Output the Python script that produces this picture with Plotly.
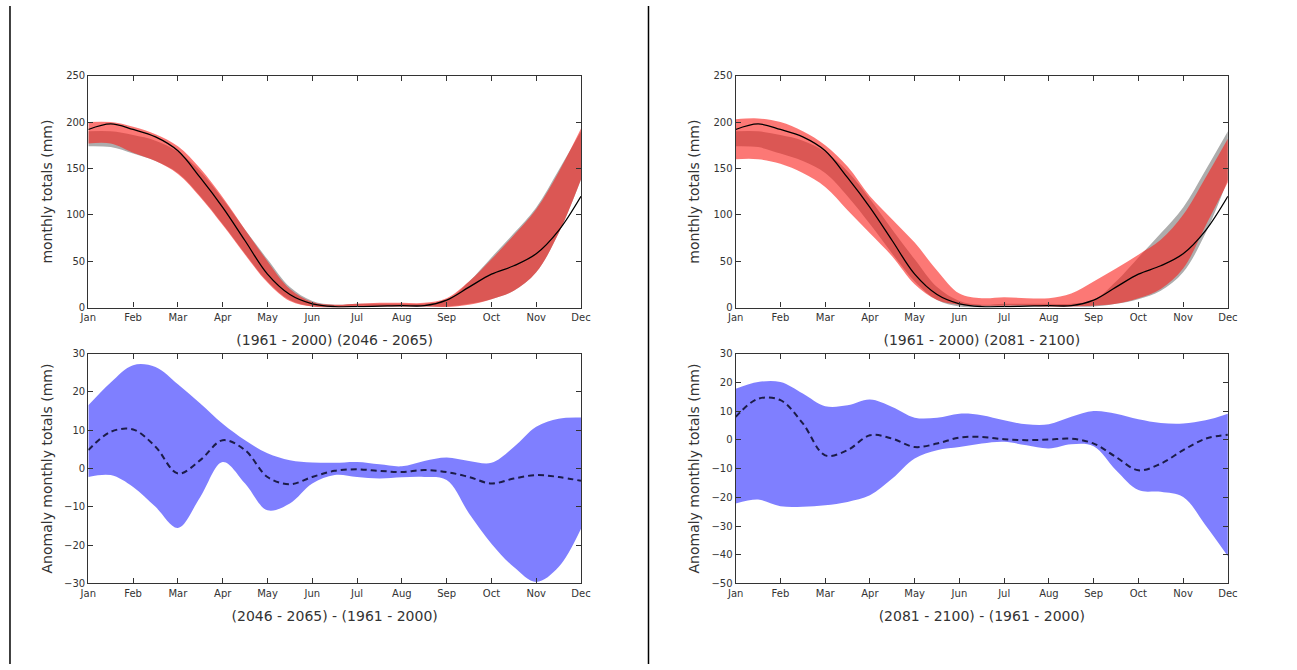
import plotly.graph_objects as go

month_labels = ["Jan", "Feb", "Mar", "Apr", "May", "Jun", "Jul", "Aug", "Sep", "Oct", "Nov", "Dec"]
sample_x = [i / 2 for i in range(23)]  # Jan, mid-Jan, Feb, ... Dec (month index)

# observed climatology (black line, same in both top panels)
obs_line = [192, 198, 192, 184, 169, 140, 108, 72, 36, 14, 4, 1, 1, 1.5, 2, 2, 8, 22, 36, 45, 58, 83, 120]

# historical model range 1961-2000 (grey band)
hist_upper = [190, 190, 186, 180, 168, 147, 117, 84, 52, 22, 7, 3, 4, 4, 4, 4, 8, 28, 54, 80, 108, 148, 190]
hist_lower = [174, 173, 166, 158, 145, 120, 90, 58, 28, 8, 1, 0, 0.5, 1, 1, 1, 1, 4, 9, 18, 38, 80, 138]

# future range 2046-2065 (red band, left)
mid_upper = [200, 200, 195, 187, 174, 150, 119, 84, 50, 20, 6, 3, 4, 5, 5, 5, 10, 28, 52, 78, 106, 146, 193]
mid_lower = [177, 177, 167, 158, 144, 119, 89, 57, 27, 7, 1, 0, 0.5, 1, 1, 1, 0.5, 3, 9, 18, 38, 80, 138]

# future range 2081-2100 (red band, right)
end_upper = [203, 204, 200, 190, 175, 152, 120, 95, 70, 40, 15, 10, 11, 10, 10, 15, 28, 42, 57, 73, 100, 140, 182]
end_lower = [160, 160, 155, 145, 130, 105, 80, 55, 25, 8, 3, 2, 2, 2, 1, 1, 2, 4, 10, 20, 42, 88, 135]

# anomaly (2046-2065) - (1961-2000)
anom_mid_upper = [16.5, 22.5, 27, 26.5, 22, 17, 11.7, 7.4, 4, 2.2, 1.6, 1.5, 1.7, 1.1, 0.6, 2, 2.9, 2, 1.5, 5.6, 10.9, 13, 13.3]
anom_mid_lower = [-2.2, -1.7, -4.8, -10, -15.5, -7.4, 1.7, -3.9, -10.9, -9.1, -3.9, -1.7, -2.2, -2.6, -2.3, -2.2, -3, -11.7, -19.6, -25.7, -29.6, -25.7, -15.7]
anom_mid_mean = [4.8, 9.6, 10.2, 5.7, -1.3, 2.2, 7.4, 4.8, -2.2, -4.1, -2.2, -0.6, -0.2, -0.6, -0.9, -0.4, -0.9, -2.2, -3.9, -2.6, -1.7, -2.2, -3.2]

# anomaly (2081-2100) - (1961-2000)
anom_end_upper = [17.8, 20.1, 20.1, 16.1, 11.7, 12, 14, 11.4, 7.7, 7.7, 9.1, 8.6, 6.8, 5.4, 5.4, 8, 10, 9.1, 7.2, 5.9, 5.7, 6.8, 9.1]
anom_end_lower = [-22.2, -20.8, -23.1, -23.3, -22.8, -21.6, -19.3, -13.5, -6.5, -3.6, -2.5, -1.3, -0.7, -1.9, -3, -1.5, -2.2, -10.6, -17.5, -18.1, -19.9, -29.7, -40.5]
anom_end_mean = [8, 14.3, 13.8, 5.7, -5.4, -3.6, 1.6, 0.4, -2.5, -1.3, 0.8, 1, 0.2, -0.1, 0.1, 0.4, -1.3, -6, -10.6, -8.3, -3.6, 0.4, 1.8]

top_titles = ["(1961 - 2000) (2046 - 2065)", "(1961 - 2000) (2081 - 2100)"]
bottom_titles = ["(2046 - 2065) - (1961 - 2000)", "(2081 - 2100) - (1961 - 2000)"]

# ---- styles ----
FONT = "DejaVu Sans"
GREY = "#adadad"
RED = "rgba(250,30,25,0.6)"
BLUE = "rgba(0,0,255,0.5)"
DASH = "#1c1c48"
SM = 1.0

fig = go.Figure()


def band(xa, ya, lower, upper, color):
    fig.add_trace(go.Scatter(x=sample_x, y=lower, xaxis=xa, yaxis=ya, mode="lines",
                             line=dict(width=0, shape="spline", smoothing=SM, color=color),
                             showlegend=False, hoverinfo="skip"))
    fig.add_trace(go.Scatter(x=sample_x, y=upper, xaxis=xa, yaxis=ya, mode="lines",
                             line=dict(width=0, shape="spline", smoothing=SM, color=color),
                             fill="tonexty", fillcolor=color,
                             showlegend=False, hoverinfo="skip"))


def line(xa, ya, y, color, width, dash="solid"):
    fig.add_trace(go.Scatter(x=sample_x, y=y, xaxis=xa, yaxis=ya, mode="lines",
                             line=dict(color=color, width=width, dash=dash,
                                       shape="spline", smoothing=SM),
                             showlegend=False))


# top-left
band("x", "y", hist_lower, hist_upper, GREY)
band("x", "y", mid_lower, mid_upper, RED)
line("x", "y", obs_line, "black", 1.3)
# top-right
band("x2", "y2", hist_lower, hist_upper, GREY)
band("x2", "y2", end_lower, end_upper, RED)
line("x2", "y2", obs_line, "black", 1.3)
# bottom-left
band("x3", "y3", anom_mid_lower, anom_mid_upper, BLUE)
line("x3", "y3", anom_mid_mean, DASH, 2, "6px,4px")
# bottom-right
band("x4", "y4", anom_end_lower, anom_end_upper, BLUE)
line("x4", "y4", anom_end_mean, DASH, 2, "6px,4px")

# body margin is removed by the post script, so the figure fills the window
W, H = 1297, 670


def px(a, b):
    return [a / W, b / W]


def py(top, bottom):
    return [1 - bottom / H, 1 - top / H]


xl = px(80.5, 580.5)
xr = px(737.5, 1237)
yt = py(71, 307)
yb = py(354, 588)

tickfont = dict(family=FONT, size=10, color="#333333")
titlefont = dict(family=FONT, size=14, color="#333333")


def xaxis(domain, anchor, title):
    return dict(domain=domain, anchor=anchor, range=[0, 11], tickvals=list(range(12)),
                ticktext=month_labels, ticks="inside", ticklen=5, tickcolor="#333333",
                showline=True, linecolor="#333333", linewidth=1.2, mirror="ticks",
                showgrid=False, zeroline=False, tickfont=tickfont,
                title=dict(text=title, font=titlefont, standoff=13))


def yaxis(domain, anchor, rng, dtick, title, standoff):
    return dict(domain=domain, anchor=anchor, range=rng, dtick=dtick, tick0=0,
                ticks="inside", ticklen=5, tickcolor="#333333",
                showline=True, linecolor="#333333", linewidth=1.2, mirror="ticks",
                showgrid=False, zeroline=False, tickfont=tickfont,
                title=dict(text=title, font=titlefont, standoff=standoff))


fig.update_layout(
    width=W, height=H, autosize=False,
    margin=dict(l=0, r=0, t=0, b=0),
    paper_bgcolor="white", plot_bgcolor="white",
    showlegend=False,
    xaxis=xaxis(xl, "y", top_titles[0]),
    yaxis=yaxis(yt, "x", [0, 250], 50, "monthly totals (mm)", 10),
    xaxis2=xaxis(xr, "y2", top_titles[1]),
    yaxis2=yaxis(yt, "x2", [0, 250], 50, "monthly totals (mm)", 10),
    xaxis3=xaxis(xl, "y3", bottom_titles[0]),
    yaxis3=yaxis(yb, "x3", [-30, 30], 10, "Anomaly monthly totals (mm)", 8),
    xaxis4=xaxis(xr, "y4", bottom_titles[1]),
    yaxis4=yaxis(yb, "x4", [-50, 30], 10, "Anomaly monthly totals (mm)", 8),
    shapes=[
        dict(type="line", xref="paper", yref="paper", x0=1 / W, x1=1 / W, y0=0, y1=1,
             line=dict(color="black", width=1.5)),
        dict(type="line", xref="paper", yref="paper", x0=649 / W, x1=649 / W,
             y0=0, y1=1, line=dict(color="black", width=1.5)),
    ],
)

fig.write_html("out.html", config={"displayModeBar": False},
               post_script="document.body.style.margin='0';document.documentElement.style.overflow='hidden';")
